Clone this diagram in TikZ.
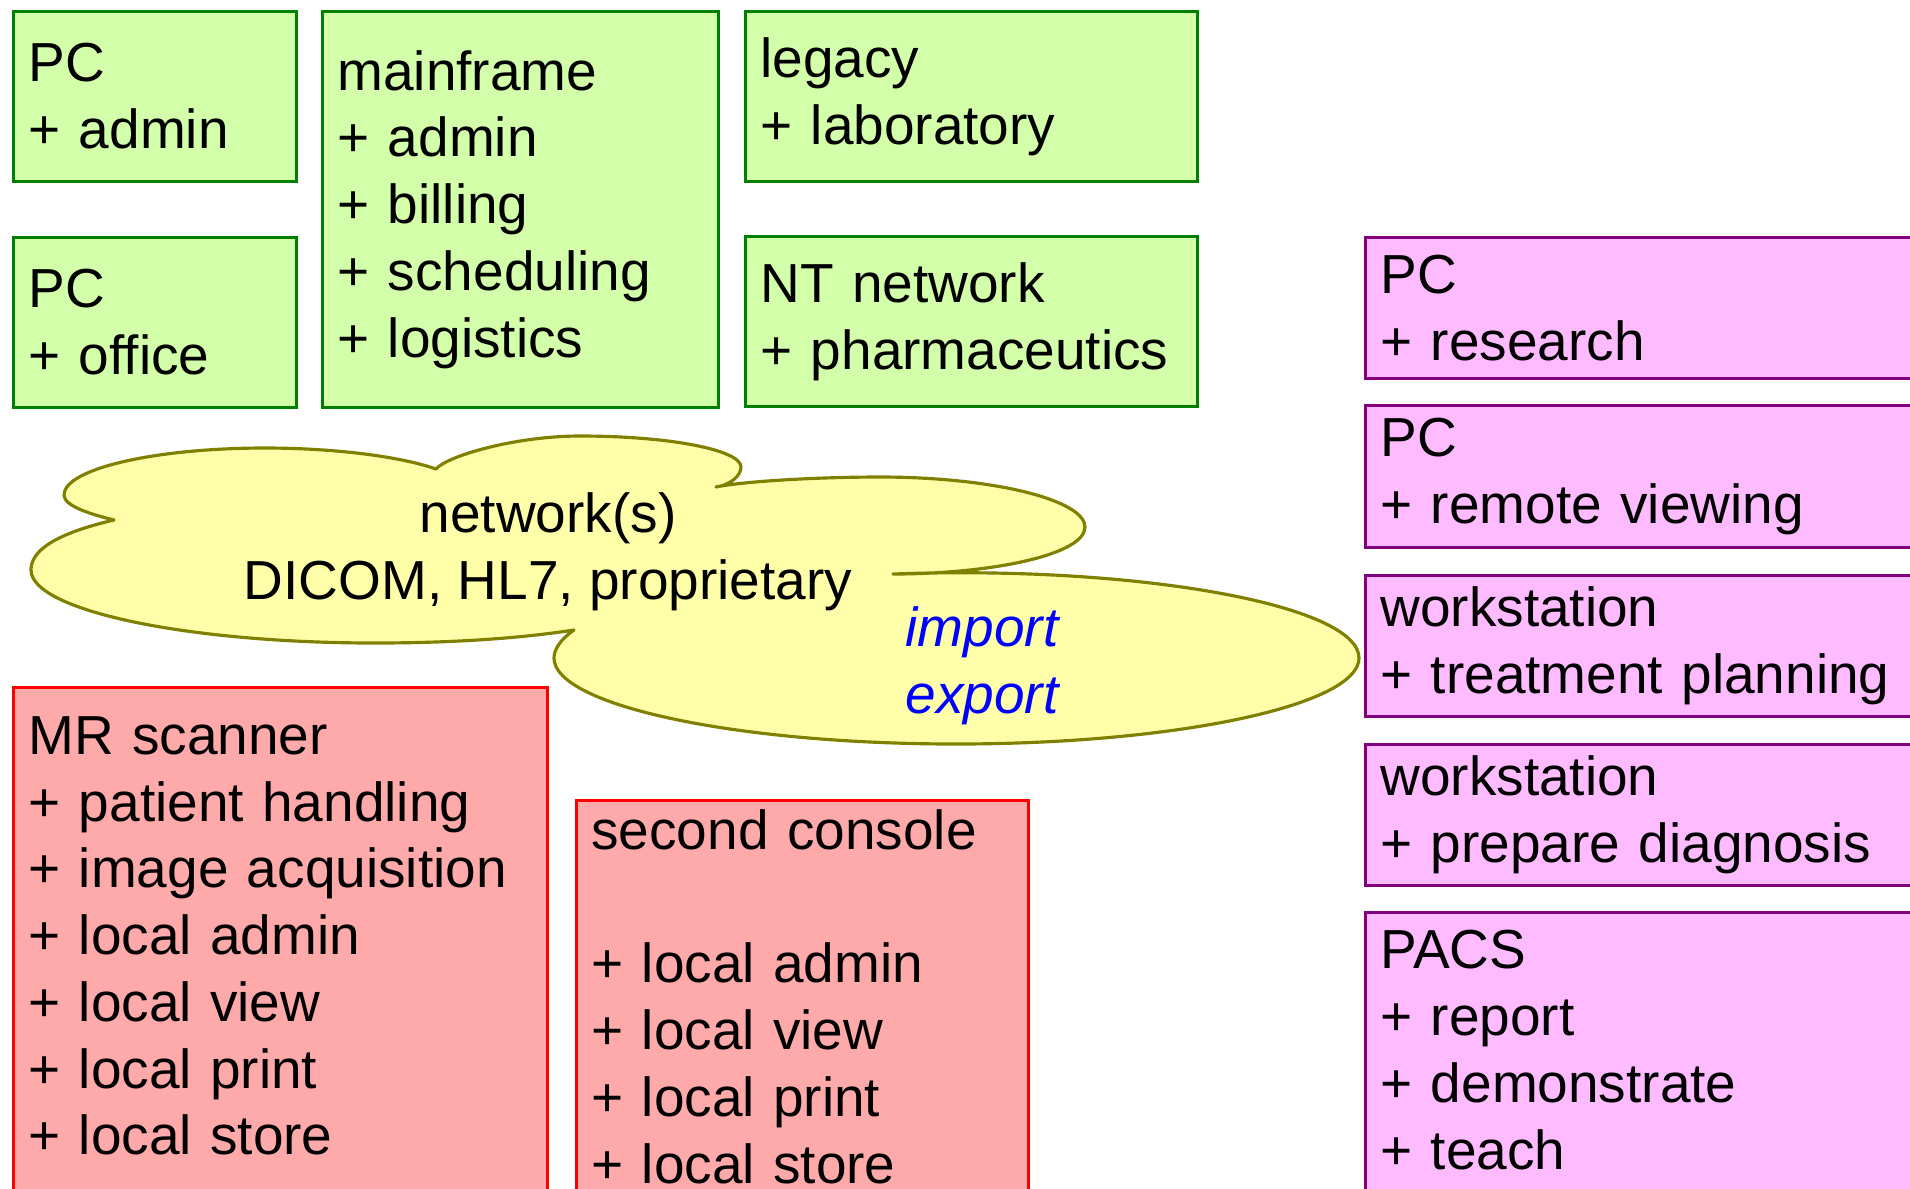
\documentclass[tikz,border=0pt]{standalone}
\usepackage{fontspec}
\setmainfont{Liberation Sans}
\usetikzlibrary{positioning}

\definecolor{hisfill}{RGB}{212,255,170}
\definecolor{hisline}{RGB}{0,128,0}
\definecolor{modfill}{RGB}{255,170,170}
\definecolor{modline}{RGB}{255,0,0}
\definecolor{viewfill}{RGB}{255,187,255}
\definecolor{viewline}{RGB}{128,0,128}
\definecolor{netfill}{RGB}{255,255,170}
\definecolor{netline}{RGB}{128,128,0}

\newcommand{\diagfont}{\fontsize{15.65pt}{19pt}\selectfont}

\tikzset{
  sysbox/.style={draw, line width=0.8pt, rectangle, anchor=north west,
    inner xsep=0.15cm, align=left},
  greenbox/.style={sysbox, fill=hisfill, draw=hisline},
  redbox/.style={sysbox, fill=modfill, draw=modline, text depth=5cm},
  pinkbox/.style={sysbox, fill=viewfill, draw=viewline, text width=5.50cm},
}

\begin{document}
\begin{tikzpicture}[font=\diagfont]
\useasboundingbox (0,0) rectangle (19.10,-11.88);
\clip (0,0) rectangle (19.10,-11.88);

\node[greenbox, text width=2.53cm, minimum height=1.70cm] (pcadmin) at (0.12,-0.10) {PC\\+ admin};
\node[greenbox, text width=2.53cm, minimum height=1.70cm] (pcoffice) at (0.12,-2.36) {PC\\+ office};
\node[greenbox, text width=3.66cm, minimum height=3.96cm] (mainframe) at (3.21,-0.10)
  {mainframe\\+ admin\\+ billing\\+ scheduling\\+ logistics};
\node[greenbox, text width=4.22cm, minimum height=1.70cm] (legacy) at (7.44,-0.10) {legacy\\+ laboratory};
\node[greenbox, text width=4.22cm, minimum height=1.70cm] (ntnet) at (7.44,-2.35) {NT network\\+ pharmaceutics};

\node[pinkbox, minimum height=1.41cm] (research) at (13.64,-2.36) {PC\\+ research};
\node[pinkbox, minimum height=1.42cm] (remote) at (13.64,-4.04) {PC\\+ remote viewing};
\node[pinkbox, minimum height=1.41cm] (planning) at (13.64,-5.74) {workstation\\+ treatment planning};
\node[pinkbox, minimum height=1.41cm] (diagnosis) at (13.64,-7.43) {workstation\\+ prepare diagnosis};
\node[pinkbox, inner ysep=0.18cm, text depth=5cm] (pacs) at (13.64,-9.11)
  {PACS\\+ report\\+ demonstrate\\+ teach};

\node[redbox, text width=5.04cm, inner ysep=0.29cm] (scanner) at (0.12,-6.86)
  {MR scanner\\+ patient handling\\+ image acquisition\\+ local admin\\+ local view\\+ local print\\+ local store};
\node[redbox, text width=4.22cm, inner ysep=0.09cm] (console) at (5.75,-7.99)
  {second console\\[19pt]+ local admin\\+ local view\\+ local print\\+ local store};

\draw[fill=netfill, draw=netline, line width=0.9pt, line join=round]
  (1.14,-5.20) .. controls (0.90,-5.14) and (0.64,-5.06) .. (0.64,-4.95)
  .. controls (0.64,-4.69) and (1.54,-4.48) .. (2.65,-4.48)
  .. controls (3.32,-4.48) and (3.99,-4.56) .. (4.36,-4.69)
  .. controls (4.47,-4.56) and (5.15,-4.36) .. (5.80,-4.36)
  .. controls (6.70,-4.36) and (7.41,-4.50) .. (7.41,-4.67)
  .. controls (7.41,-4.76) and (7.30,-4.85) .. (7.16,-4.87)
  .. controls (7.45,-4.81) and (8.20,-4.77) .. (8.80,-4.77)
  .. controls (9.93,-4.77) and (10.85,-5.00) .. (10.85,-5.27)
  .. controls (10.85,-5.55) and (9.90,-5.74) .. (8.93,-5.74)
  .. controls (11.37,-5.65) and (13.59,-6.05) .. (13.59,-6.58)
  .. controls (13.59,-7.05) and (11.78,-7.44) .. (9.56,-7.44)
  .. controls (7.34,-7.44) and (5.54,-7.05) .. (5.54,-6.58)
  .. controls (5.54,-6.49) and (5.61,-6.39) .. (5.74,-6.30)
  .. controls (5.16,-6.39) and (4.46,-6.43) .. (3.75,-6.43)
  .. controls (1.85,-6.43) and (0.31,-6.10) .. (0.31,-5.70)
  .. controls (0.31,-5.51) and (0.54,-5.34) .. cycle;

\node[align=center, inner sep=0pt] (net) at (5.48,-5.52) {network(s)\\DICOM, HL7, proprietary};
\node[align=left, inner sep=0pt, anchor=west, text=blue, font=\diagfont\itshape] (io) at (9.05,-6.66) {import\\export};

\end{tikzpicture}
\end{document}
